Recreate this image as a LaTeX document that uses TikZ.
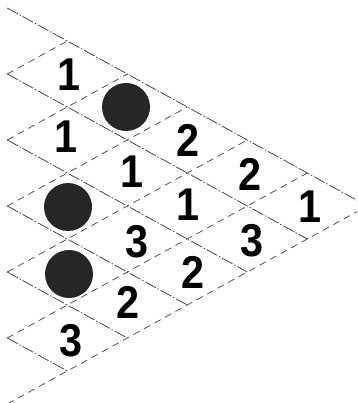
\documentclass[tikz,border=0pt]{standalone}
\usepackage{fontspec}
\setmainfont{Liberation Sans}
\newcommand{\dg}[1]{\scalebox{0.9}[1]{#1}}
\begin{document}
\begin{tikzpicture}[x=1pt,y=-1pt,
  sline/.style={line width=0.7pt,black!80,dash pattern=on 12pt off 2pt on 1.5pt off 2pt},
  dline/.style={line width=0.7pt,black!75,dash pattern=on 7pt off 5pt},
  num/.style={inner sep=0pt,font=\fontsize{46}{46}\selectfont\bfseries},
  dot/.style={circle,fill=black!85,minimum size=48pt,inner sep=0pt}]
\useasboundingbox (0,0) rectangle (357,403);
\clip (0,0) rectangle (357,403);
% lattice vertices V-j-m (j: solid line index, m: dashed line index)
\foreach \j in {0,...,6}{
  \foreach \m in {-1,...,5}{
    \coordinate (V-\j-\m) at ({67.3+60*(\m-\j)},{41+33*(\m+\j)});
  }
}
% solid lines (down-right)
\draw[sline] (V-0--1) -- (V-0-5);
\foreach \j [evaluate=\j as \p using int(\j-1)] in {1,...,5}{
  \draw[sline] (V-\j-\p) -- (V-\j-5);
}
% dashed lines (up-right)
\foreach \m [evaluate=\m as \q using int(\m+1)] in {0,...,4}{
  \draw[dline] (V-\q-\m) -- (V-0-\m);
}
\draw[dline] (V-6-5) -- (V-0-5);
% row 0
\node[num] (a0) at (69,75) {\dg{1}};
\node[dot] (a1) at (126,107) {};
\node[num] (a2) at (188,140) {\dg{2}};
\node[num] (a3) at (250,174) {\dg{2}};
\node[num] (a4) at (310,207) {\dg{1}};
% row 1
\node[num] (b0) at (66,137) {\dg{1}};
\node[num] (b1) at (132,172) {\dg{1}};
\node[num] (b2) at (188,205) {\dg{1}};
\node[num] (b3) at (252,241) {\dg{3}};
% row 2
\node[dot] (c0) at (68,207) {};
\node[num] (c1) at (137,242) {\dg{3}};
\node[num] (c2) at (193,272) {\dg{2}};
% row 3
\node[dot] (d0) at (69,274) {};
\node[num] (d1) at (128,302) {\dg{2}};
% row 4
\node[num] (e0) at (71,341) {\dg{3}};
\end{tikzpicture}
\end{document}
